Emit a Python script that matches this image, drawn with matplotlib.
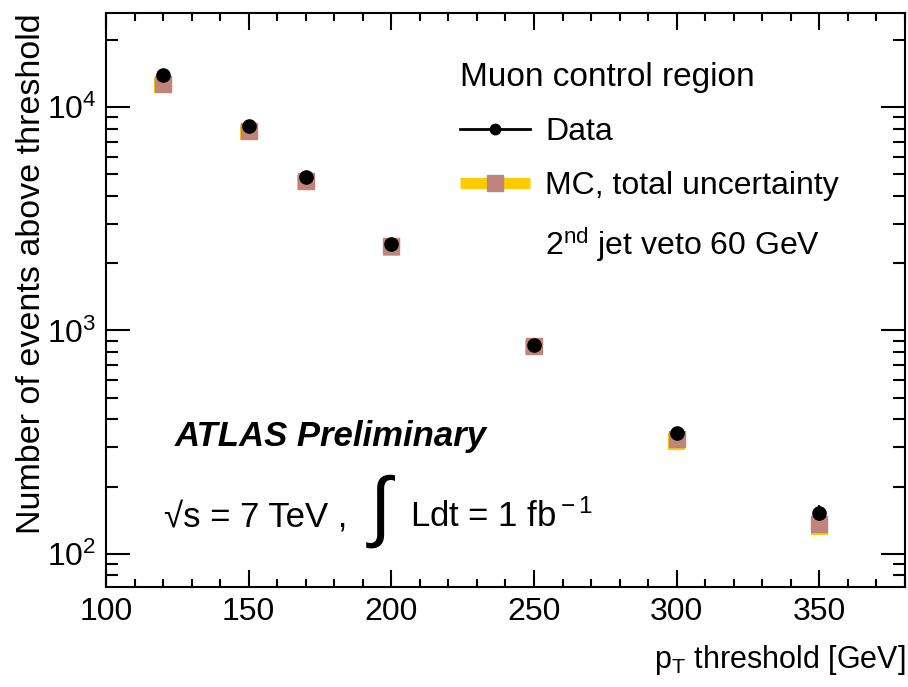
import numpy as np
import matplotlib
matplotlib.use('Agg')
import matplotlib.pyplot as plt
from matplotlib.lines import Line2D

plt.rcParams['font.family'] = ['Liberation Sans', 'DejaVu Sans']
plt.rcParams['mathtext.fontset'] = 'custom'
plt.rcParams['mathtext.rm'] = 'Liberation Sans'
plt.rcParams['mathtext.it'] = 'Liberation Sans:italic'
plt.rcParams['mathtext.bf'] = 'Liberation Sans:bold'

# pT thresholds [GeV]
pt = [120, 150, 170, 200, 250, 300, 350]
# events above threshold
data = [13950, 8220, 4870, 2430, 860, 346, 153]
mc = [12700, 7800, 4650, 2390, 848, 326, 136]
mc_err_lo = [1160, 670, 400, 234, 73, 34, 15]
mc_err_hi = [800, 500, 300, 150, 54, 21, 9]

pt = np.array(pt)
data = np.array(data)
mc = np.array(mc)
lo = mc - np.array(mc_err_lo)
hi = mc + np.array(mc_err_hi)

yellow = '#ffcc00'
brown = '#c0847a'

fig = plt.figure(figsize=(9.08, 6.87), dpi=100)
ax = fig.add_axes([0.1167, 0.1456, 0.88, 0.8354])

# MC uncertainty band, MC central values, data
ax.bar(pt, hi - lo, bottom=lo, width=6, color=yellow, zorder=2)
ax.plot(pt, mc, 's', color=brown, markersize=12, zorder=3)
ax.errorbar(pt, data, yerr=np.sqrt(data), fmt='o', color='black',
            markersize=9.5, elinewidth=1.5, capsize=0, zorder=4)

ax.set_yscale('log')
ax.set_xlim(100, 380)
ax.set_ylim(71, 26400)
ax.set_xticks([100, 150, 200, 250, 300, 350])
ax.set_xticks(np.arange(100, 381, 10), minor=True)

ax.tick_params(which='both', direction='in', top=True, right=True, width=1.5)
ax.tick_params(axis='x', which='major', length=12, labelsize=23, pad=7)
ax.tick_params(axis='x', which='minor', length=6)
ax.tick_params(axis='y', which='major', length=17, labelsize=23, pad=7)
ax.tick_params(axis='y', which='minor', length=8.5)
for s in ax.spines.values():
    s.set_linewidth(1.5)

ax.set_xlabel(r'p$_{\rm T}$ threshold [GeV]', fontsize=22, loc='right')
ax.xaxis.set_label_coords(1.0, -0.098)
ax.set_ylabel('Number of events above threshold', fontsize=24.5, loc='top')
ax.yaxis.set_label_coords(-0.074, 1.0)

# legend
h_data = Line2D([], [], color='black', lw=2, marker='o', markersize=7.5)
h_band = Line2D([], [], color=yellow, lw=8, solid_capstyle='butt')
h_mc = Line2D([], [], color=brown, marker='s', markersize=11, lw=0)
h_none = Line2D([], [], color='none')
leg = ax.legend([h_data, (h_band, h_mc), h_none],
                ['Data', 'MC, total uncertainty', r'2$^{\rm nd}$ jet veto 60 GeV'],
                title='Muon control region', title_fontsize=24, fontsize=23,
                loc='upper left', bbox_to_anchor=(0.443, 0.915), frameon=False,
                handlelength=2.2, handletextpad=0.47, labelspacing=0.75,
                borderpad=0, borderaxespad=0, alignment='left')

ax.text(0.086, 0.245, 'ATLAS Preliminary', transform=ax.transAxes,
        fontsize=25, fontweight='bold', fontstyle='italic')
ax.text(0.073, 0.105, '\u221as = 7 TeV ,', transform=ax.transAxes, fontsize=25)
ax.text(0.33, 0.097, '\u222b', transform=ax.transAxes, fontsize=56)
ax.text(0.38, 0.105, r'Ldt = 1 fb$^{\rm -1}$', transform=ax.transAxes, fontsize=25)

fig.savefig('out.png', dpi=100)
